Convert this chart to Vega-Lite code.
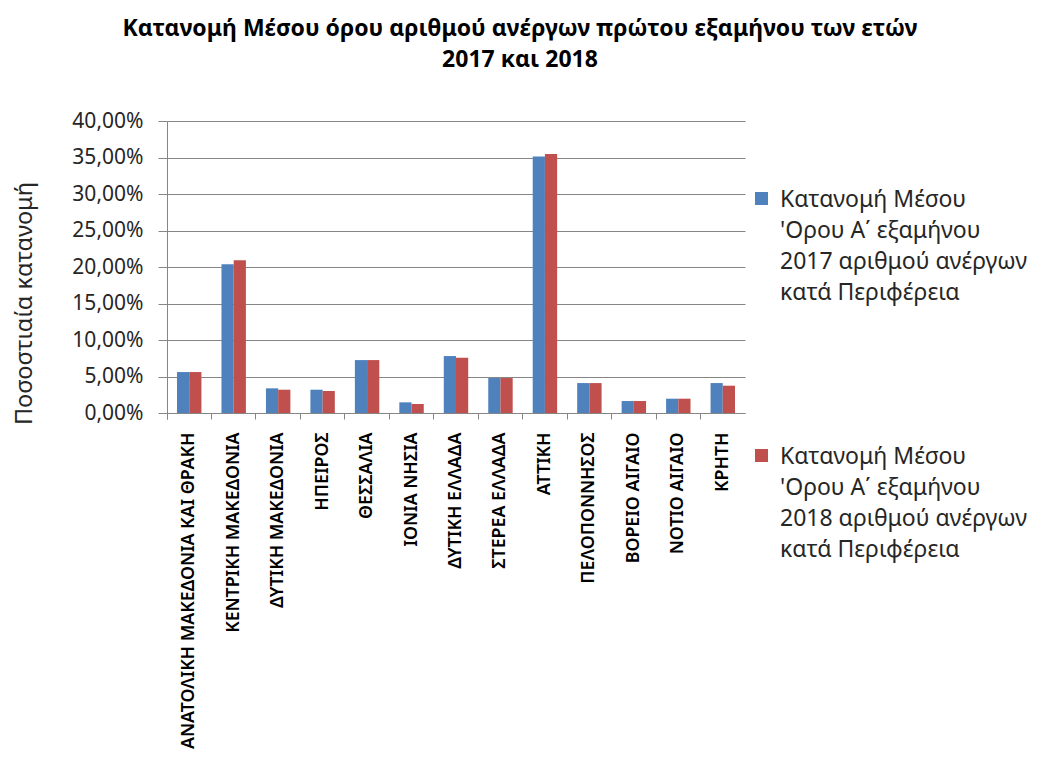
{
  "$schema": "https://vega.github.io/schema/vega-lite/v6.json",
  "autosize": {"type": "none"},
  "padding": {"left": 167, "top": 121, "right": 292, "bottom": 345},
  "width": 578,
  "height": 292,
  "background": "white",
  "title": {
    "text": ["Κατανομή Μέσου όρου αριθμού ανέργων πρώτου  εξαμήνου των ετών", "2017 και 2018"],
    "font": "Noto Sans",
    "fontSize": 23,
    "fontWeight": "bold",
    "color": "#000000",
    "anchor": "middle",
    "frame": "group",
    "limit": 1000,
    "dx": 64,
    "offset": 38,
    "lineHeight": 31
  },
  "data": {
    "values": [
      {"region": "ΑΝΑΤΟΛΙΚΗ ΜΑΚΕΔΟΝΙΑ ΚΑΙ ΘΡΑΚΗ", "year": "2017", "value": 0.0561},
      {"region": "ΑΝΑΤΟΛΙΚΗ ΜΑΚΕΔΟΝΙΑ ΚΑΙ ΘΡΑΚΗ", "year": "2018", "value": 0.0561},
      {"region": "ΚΕΝΤΡΙΚΗ ΜΑΚΕΔΟΝΙΑ", "year": "2017", "value": 0.2039},
      {"region": "ΚΕΝΤΡΙΚΗ ΜΑΚΕΔΟΝΙΑ", "year": "2018", "value": 0.2093},
      {"region": "ΔΥΤΙΚΗ ΜΑΚΕΔΟΝΙΑ", "year": "2017", "value": 0.0338},
      {"region": "ΔΥΤΙΚΗ ΜΑΚΕΔΟΝΙΑ", "year": "2018", "value": 0.0319},
      {"region": "ΗΠΕΙΡΟΣ", "year": "2017", "value": 0.0319},
      {"region": "ΗΠΕΙΡΟΣ", "year": "2018", "value": 0.0301},
      {"region": "ΘΕΣΣΑΛΙΑ", "year": "2017", "value": 0.0725},
      {"region": "ΘΕΣΣΑΛΙΑ", "year": "2018", "value": 0.0725},
      {"region": "ΙΟΝΙΑ ΝΗΣΙΑ", "year": "2017", "value": 0.0146},
      {"region": "ΙΟΝΙΑ ΝΗΣΙΑ", "year": "2018", "value": 0.0123},
      {"region": "ΔΥΤΙΚΗ ΕΛΛΑΔΑ", "year": "2017", "value": 0.0780},
      {"region": "ΔΥΤΙΚΗ ΕΛΛΑΔΑ", "year": "2018", "value": 0.0757},
      {"region": "ΣΤΕΡΕΑ ΕΛΛΑΔΑ", "year": "2017", "value": 0.0479},
      {"region": "ΣΤΕΡΕΑ ΕΛΛΑΔΑ", "year": "2018", "value": 0.0479},
      {"region": "ΑΤΤΙΚΗ", "year": "2017", "value": 0.3512},
      {"region": "ΑΤΤΙΚΗ", "year": "2018", "value": 0.3548},
      {"region": "ΠΕΛΟΠΟΝΝΗΣΟΣ", "year": "2017", "value": 0.0410},
      {"region": "ΠΕΛΟΠΟΝΝΗΣΟΣ", "year": "2018", "value": 0.0410},
      {"region": "ΒΟΡΕΙΟ ΑΙΓΑΙΟ", "year": "2017", "value": 0.0164},
      {"region": "ΒΟΡΕΙΟ ΑΙΓΑΙΟ", "year": "2018", "value": 0.0164},
      {"region": "ΝΟΤΙΟ ΑΙΓΑΙΟ", "year": "2017", "value": 0.0196},
      {"region": "ΝΟΤΙΟ ΑΙΓΑΙΟ", "year": "2018", "value": 0.0196},
      {"region": "ΚΡΗΤΗ", "year": "2017", "value": 0.0410},
      {"region": "ΚΡΗΤΗ", "year": "2018", "value": 0.0374}
    ]
  },
  "mark": {"type": "bar"},
  "encoding": {
    "x": {
      "field": "region",
      "type": "nominal",
      "sort": null,
      "scale": {"paddingInner": 0, "paddingOuter": 0},
      "axis": {
        "title": null,
        "labelAngle": -90,
        "labelFont": "Noto Sans",
        "labelFontSize": 17.8,
        "labelFontWeight": 600,
        "labelColor": "#000000",
        "labelPadding": 13,
        "labelLimit": 400,
        "bandPosition": 0,
        "tickExtra": true,
        "ticks": true,
        "tickSize": 6,
        "tickColor": "#868686",
        "domainColor": "#868686",
        "grid": false
      }
    },
    "xOffset": {
      "field": "year",
      "type": "nominal",
      "scale": {"paddingInner": 0, "paddingOuter": 0.82}
    },
    "y": {
      "field": "value",
      "type": "quantitative",
      "scale": {"domain": [0, 0.4], "nice": false},
      "axis": {
        "title": "Ποσοστιαία κατανομή",
        "titleFont": "Noto Sans",
        "titleFontSize": 23.5,
        "titleFontWeight": "normal",
        "titleColor": "#262626",
        "titleX": -143,
        "titleY": 182,
        "titleAngle": -90,
        "titleAlign": "center",
        "titleBaseline": "middle",
        "values": [0, 0.05, 0.1, 0.15, 0.2, 0.25, 0.3, 0.35, 0.4],
        "labelExpr": "replace(format(datum.value, '.2%'), '.', ',')",
        "labelFont": "Noto Sans",
        "labelFontSize": 21,
        "labelColor": "#262626",
        "labelPadding": 15,
        "tickSize": 9,
        "tickColor": "#868686",
        "domainColor": "#868686",
        "gridColor": "#868686",
        "gridWidth": 1
      }
    },
    "color": {
      "field": "year",
      "type": "nominal",
      "scale": {"domain": ["2017", "2018"], "range": ["#4F81BD", "#C0504D"]},
      "legend": {
        "title": null,
        "orient": "none",
        "legendX": 583,
        "legendY": 66,
        "symbolType": "square",
        "symbolSize": 169,
        "symbolStrokeWidth": 0,
        "labelFont": "Noto Sans",
        "labelFontSize": 23,
        "labelColor": "#262626",
        "labelLimit": 400,
        "labelOffset": 7,
        "rowPadding": 139,
        "labelExpr": "['Κατανομή Μέσου', '\\'Ορου Α΄ εξαμήνου', datum.label + ' αριθμού ανέργων', 'κατά Περιφέρεια']",
        "labelBaseline": "alphabetic",
        "encoding": {
          "labels": {"lineHeight": {"value": 31}, "dy": {"value": 8}}
        }
      }
    }
  },
  "config": {
    "view": {"stroke": null}
  }
}
